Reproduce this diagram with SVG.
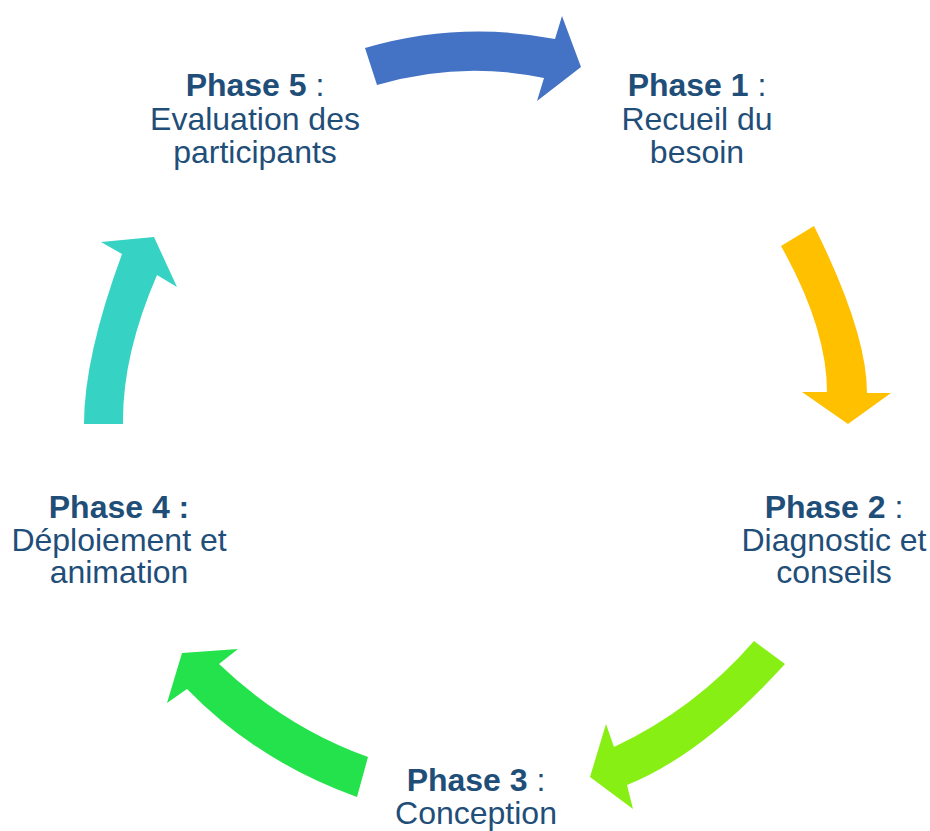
<svg xmlns="http://www.w3.org/2000/svg" width="930" height="831" viewBox="0 0 930 831">
<style>
.lbl{font-family:"Liberation Sans",Arial,sans-serif;font-size:32px;fill:#1F4E79;text-anchor:middle}
.b{font-weight:bold}
</style>
<rect width="930" height="831" fill="#FFFFFF"/>
<g id="connectors">
<path id="arrow-5-1" fill="#4472C4" d="M365,48 Q460,20.5 555,39 L562,16 L581,67 L537,101 L544,78 Q460.5,60.5 377,85 Z"/>
<path id="arrow-1-2" fill="#FFC000" d="M781,246 L814,226 Q867,332 867,393 L891,393 L848,424 L802,392 L827,392 Q827,328 781,246 Z"/>
<path id="arrow-2-3" fill="#87EF14" d="M754,641 L785,664 Q702,755 627,785 L633,809 L590,777 L606,724 L614,747 Q695,709 754,641 Z"/>
<path id="arrow-3-4" fill="#24E24C" d="M368,757 L357,797 Q257,761 187,689 L167,703 L182,653 L238,649 L219,664 Q285,727 368,757 Z"/>
<path id="arrow-4-5" fill="#36D3C5" d="M84,424 L123,424 Q122,356 157,275 L177,287 L154,237 L101,242 L122,254 Q84,357 84,424 Z"/>
</g>
<g id="phase1">
<text class="lbl" x="697" y="96"><tspan class="b">Phase 1</tspan> :</text>
<text class="lbl" x="697" y="129.5">Recueil du</text>
<text class="lbl" x="697" y="162.5">besoin</text>
</g>
<g id="phase2">
<text class="lbl" x="834" y="518"><tspan class="b">Phase 2</tspan> :</text>
<text class="lbl" x="834" y="550.5">Diagnostic et</text>
<text class="lbl" x="834" y="583">conseils</text>
</g>
<g id="phase3">
<text class="lbl" x="476" y="790.5"><tspan class="b">Phase 3</tspan> :</text>
<text class="lbl" x="476" y="823.5">Conception</text>
</g>
<g id="phase4">
<text class="lbl b" x="119" y="518">Phase 4 :</text>
<text class="lbl" x="119" y="550.5">Déploiement et</text>
<text class="lbl" x="119" y="583">animation</text>
</g>
<g id="phase5">
<text class="lbl" x="255" y="96"><tspan class="b">Phase 5</tspan> :</text>
<text class="lbl" x="255" y="129.5">Evaluation des</text>
<text class="lbl" x="255" y="162.5">participants</text>
</g>
</svg>
